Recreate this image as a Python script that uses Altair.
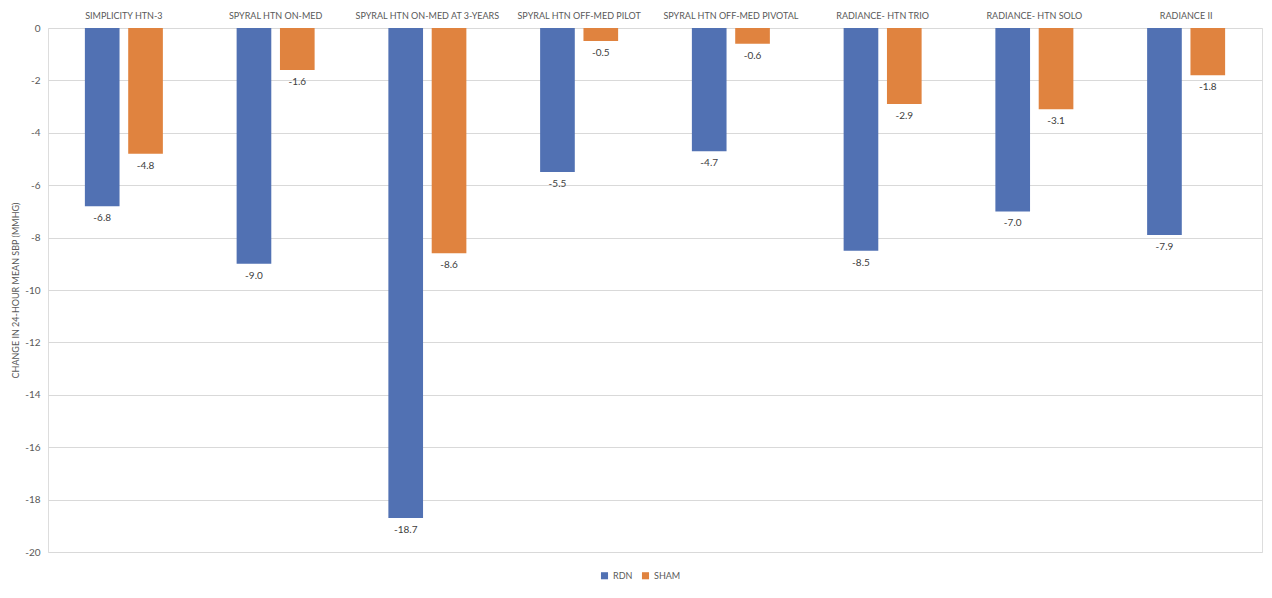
import altair as alt
import pandas as pd

trials = ["SIMPLICITY HTN-3", "SPYRAL HTN ON-MED", "SPYRAL HTN ON-MED AT 3-YEARS",
          "SPYRAL HTN OFF-MED PILOT", "SPYRAL HTN OFF-MED PIVOTAL", "RADIANCE- HTN TRIO",
          "RADIANCE-  HTN SOLO", "RADIANCE II"]
rdn = [-6.8, -9.0, -18.7, -5.5, -4.7, -8.5, -7.0, -7.9]
sham = [-4.8, -1.6, -8.6, -0.5, -0.6, -2.9, -3.1, -1.8]
groups = ["RDN", "SHAM"]
colors = ["#5171B3", "#E0833F"]
y_ticks = list(range(-20, 1, 2))

rows = []
for t, a, b in zip(trials, rdn, sham):
    rows.append({"trial": t, "group": "RDN", "value": a})
    rows.append({"trial": t, "group": "SHAM", "value": b})
df = pd.DataFrame(rows)

FONT = "Lato"

base = alt.Chart(df).encode(
    x=alt.X("trial:N", sort=trials, title=None,
            scale=alt.Scale(paddingInner=0.486, paddingOuter=0.243),
            axis=alt.Axis(orient="top", domain=False, ticks=False, labelAngle=0,
                          labelFontSize=9, labelColor="#595959", labelPadding=8,
                          labelFont=FONT, labelLimit=200)),
    xOffset=alt.XOffset("group:N", sort=groups,
                        scale=alt.Scale(paddingInner=0.2, paddingOuter=0)),
)

bars = base.mark_bar().encode(
    y=alt.Y("value:Q", title="CHANGE IN 24-HOUR MEAN SBP (MMHG)",
            scale=alt.Scale(domain=[-20, 0], nice=False),
            axis=alt.Axis(values=y_ticks, domain=False, ticks=False, grid=True,
                          gridColor="#d9d9d9", gridWidth=1, labelFontSize=10,
                          labelColor="#595959", labelFont=FONT, labelPadding=8,
                          labelExpr="replace(datum.label, '\u2212', '-')",
                          titleFontSize=9, titleColor="#595959", titleFont=FONT,
                          titleFontWeight="normal", titlePadding=4)),
    color=alt.Color("group:N", sort=groups,
                    scale=alt.Scale(domain=groups, range=colors),
                    legend=alt.Legend(title=None, orient="none", direction="horizontal",
                                      legendX=552, legendY=543, symbolType="square",
                                      symbolSize=50, labelFontSize=9, labelColor="#595959",
                                      labelFont=FONT, columnPadding=8,
                                      symbolStrokeWidth=0)),
)

labels = base.mark_text(fontSize=10, color="#404040", font=FONT, dy=12,
                        baseline="middle").transform_calculate(
    lbl="replace(format(datum.value, '.1f'), '\u2212', '-')"
).encode(
    y=alt.Y("value:Q"),
    text=alt.Text("lbl:N"),
)

border = alt.Chart(pd.DataFrame({"v": [0]})).mark_rule(color="#ececec", strokeWidth=3).encode(
    x=alt.value(-48), x2=alt.value(1224), y=alt.value(-26)
)

chart = alt.layer(bars, labels, border).properties(
    width=1214, height=524,
    autosize=alt.AutoSizeParams(type="none"),
    padding={"left": 40, "top": 20, "right": 2, "bottom": 30},
).configure_view(stroke=None).configure(background="white")

chart.save("out.html", embed_options={"renderer": "svg", "actions": False})
